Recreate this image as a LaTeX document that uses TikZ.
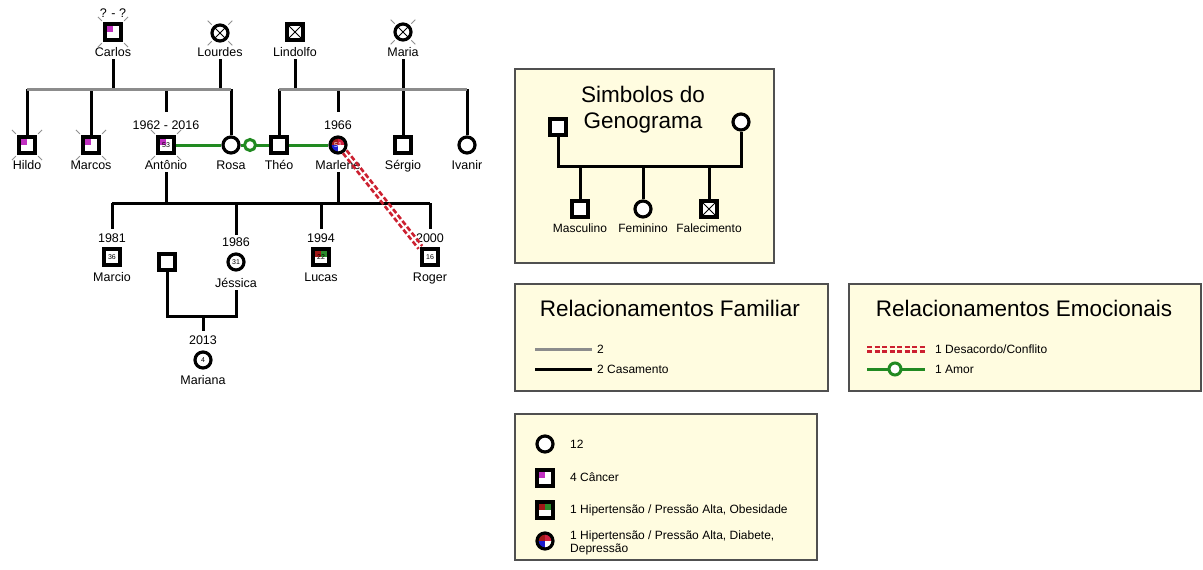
\documentclass[tikz,border=0pt]{standalone}
\usepackage{fontspec}
\setmainfont{Liberation Sans}
\definecolor{cream}{HTML}{FFFCE0}
\definecolor{relgray}{HTML}{8C8C8C}
\definecolor{lovegreen}{HTML}{218A21}
\definecolor{conflictred}{HTML}{CC2030}
\definecolor{cancer}{HTML}{C030C0}
\definecolor{hyper}{HTML}{A01818}
\definecolor{obes}{HTML}{2A8A2A}
\definecolor{diab}{HTML}{1C1CD0}
\definecolor{depr}{HTML}{D02040}
\definecolor{boxborder}{HTML}{505050}
\definecolor{tickgray}{HTML}{909090}
\tikzset{
  person/.style={draw=black, line width=3.2pt, fill=white, inner sep=0pt, minimum size=16pt, font=\fontsize{7}{8}\selectfont},
  male/.style={person, rectangle},
  female/.style={person, circle},
  deceased/.style={path picture={\draw[line width=0.8pt] (path picture bounding box.north west) -- (path picture bounding box.south east) (path picture bounding box.north east) -- (path picture bounding box.south west);}},
  cancermark/.style={path picture={\fill[cancer] (path picture bounding box.north west) rectangle (path picture bounding box.center);}},
  hypobes/.style={path picture={\fill[hyper] (path picture bounding box.north west) rectangle (path picture bounding box.center);
     \fill[obes] (path picture bounding box.north east) rectangle (path picture bounding box.center);}},
  hypdiabdep/.style={path picture={\fill[hyper] (path picture bounding box.north west) rectangle (path picture bounding box.center);
     \fill[depr] (path picture bounding box.north east) rectangle (path picture bounding box.center);
     \fill[diab] (path picture bounding box.south west) rectangle (path picture bounding box.center);}},
  lbl/.style={font=\fontsize{12.5}{14}\selectfont, inner sep=0pt, anchor=base},
  legtext/.style={font=\fontsize{12}{14}\selectfont, inner sep=0pt, anchor=base west},
  title/.style={font=\fontsize{22.5}{26}\selectfont, inner sep=0pt, anchor=base},
  famline/.style={draw=black, line width=3pt},
  grayline/.style={draw=relgray, line width=3pt},
  love/.style={draw=lovegreen, line width=3pt},
  lovecirc/.style={circle, draw=lovegreen, line width=3pt, fill=white, minimum size=11pt, inner sep=0pt},
  conflict/.style={draw=conflictred, line width=2.6pt, dash pattern=on 5pt off 2.5pt},
  tickmark/.style={draw=tickgray, line width=0.8pt},
  legendbox/.style={draw=boxborder, line width=1.5pt, fill=cream, inner sep=0pt, anchor=north west},
}
\begin{document}
\begin{tikzpicture}[x=1pt,y=-1pt]
\useasboundingbox (0,0) rectangle (1203,570);
\fill[white] (0,0) rectangle (1203,570);

% ---------------- Generation 1 ----------------
\node[male, cancermark] (carlos) at (113,32) {};
\node[lbl] (carlosyr) at (113,17) {? - ?};
\node[lbl] (carlosname) at (113,56) {Carlos};
\node[female, deceased] (lourdes) at (220,33) {};
\node[lbl] (lourdesname) at (220,56) {Lourdes};
\node[male, deceased] (lindolfo) at (295,32) {};
\node[lbl] (lindolfoname) at (295,56) {Lindolfo};
\node[female, deceased] (maria) at (403,32) {};
\node[lbl] (marianame) at (403,56) {Maria};

% ---------------- Generation 2 ----------------
\node[male, cancermark] (hildo) at (27,145) {};
\node[lbl] (hildoname) at (27,169) {Hildo};
\node[male, cancermark] (marcos) at (91,145) {};
\node[lbl] (marcosname) at (91,169) {Marcos};
\node[male, cancermark] (antonio) at (166,145) {53};
\node[lbl] (antonioyr) at (166,129) {1962 - 2016};
\node[lbl] (antonioname) at (166,169) {Antônio};
\node[female] (rosa) at (231,145) {};
\node[lbl] (rosaname) at (231,169) {Rosa};
\node[male] (theo) at (279,145) {};
\node[lbl] (theoname) at (279,169) {Théo};
\node[female, hypdiabdep, text=white] (marlene) at (338,145) {51};
\node[lbl] (marleneyr) at (338,129) {1966};
\node[lbl] (marlenename) at (338,169) {Marlene};
\node[male] (sergio) at (403,145) {};
\node[lbl] (sergioname) at (403,169) {Sérgio};
\node[female] (ivanir) at (467,145) {};
\node[lbl] (ivanirname) at (467,169) {Ivanir};

% corner ticks
\foreach \n in {carlos,lourdes,maria,hildo,marcos,antonio}{
  \draw[tickmark] (\n.north west) ++(-1.5,-1.5) -- ++(-4,-4);
  \draw[tickmark] (\n.north east) ++(1.5,-1.5) -- ++(4,-4);
  \draw[tickmark] (\n.south west) ++(-1.5,1.5) -- ++(-4,4);
  \draw[tickmark] (\n.south east) ++(1.5,1.5) -- ++(4,4);
}

% sibship bars
\coordinate (clbarL) at (27,89);
\coordinate (clbarR) at (231,89);
\coordinate (lmbarL) at (279,89);
\coordinate (lmbarR) at (467,89);

\draw[famline] ([yshift=-3pt]carlosname.south) -- (carlosname.south |- clbarL);
\draw[famline] ([yshift=-3pt]lourdesname.south) -- (lourdesname.south |- clbarL);
\draw[famline] (hildo.north |- clbarL) -- (hildo.north);
\draw[famline] (marcos.north |- clbarL) -- (marcos.north);
\draw[famline] (antonioyr.north |- clbarL) -- ([yshift=8pt]antonioyr.north);
\draw[famline] (rosa.north |- clbarL) -- (rosa.north);
\draw[grayline] (clbarL) -- (clbarR);

\draw[famline] ([yshift=-3pt]lindolfoname.south) -- (lindolfoname.south |- lmbarL);
\draw[famline] ([yshift=-3pt]marianame.south) -- (marianame.south |- lmbarL);
\draw[famline] (theo.north |- lmbarL) -- (theo.north);
\draw[famline] (marleneyr.north |- lmbarL) -- ([yshift=8pt]marleneyr.north);
\draw[famline] (sergio.north |- lmbarL) -- (sergio.north);
\draw[famline] (ivanir.north |- lmbarL) -- (ivanir.north);
\draw[grayline] (lmbarL) -- (lmbarR);

% love lines
\draw[love] (antonio.east) -- (rosa.west);
\draw[love] (rosa.east) -- (theo.west);
\node[lovecirc] (lovemark) at (250,145) {};
\draw[love] (theo.east) -- (marlene.west);

% ---------------- Generation 3 ----------------
\node[male] (marcio) at (112,257) {36};
\node[lbl] (marcioyr) at (112,242) {1981};
\node[lbl] (marcioname) at (112,281) {Marcio};
\node[female] (jessica) at (236,262) {31};
\node[lbl] (jessicayr) at (236,246) {1986};
\node[lbl] (jessicaname) at (236,287) {Jéssica};
\node[male, hypobes] (lucas) at (321,257) {\raisebox{-3pt}{22}};
\node[lbl] (lucasyr) at (321,242) {1994};
\node[lbl] (lucasname) at (321,281) {Lucas};
\node[male] (roger) at (430,257) {16};
\node[lbl] (rogeryr) at (430,242) {2000};
\node[lbl] (rogername) at (430,281) {Roger};
\node[male] (partner) at (167,262) {};

\coordinate (ambarL) at (112,203);
\coordinate (ambarR) at (430,203);
\draw[famline] ([yshift=-3pt]antonioname.south) -- (antonioname.south |- ambarL);
\draw[famline] ([yshift=-3pt]marlenename.south) -- (marlenename.south |- ambarL);
\draw[famline] (ambarL) -- (ambarR);
\draw[famline] (marcioyr.north |- ambarL) -- ([yshift=4pt]marcioyr.north);
\draw[famline] (jessicayr.north |- ambarL) -- ([yshift=2pt]jessicayr.north);
\draw[famline] (lucasyr.north |- ambarL) -- ([yshift=4pt]lucasyr.north);
\draw[famline] (rogeryr.north |- ambarL) -- ([yshift=4pt]rogeryr.north);

% Jessica's family
\coordinate (jbarL) at (167,316);
\coordinate (jbarR) at (236,316);
\coordinate (jchild) at (203,316);
\draw[famline] (partner.south) -- (partner.south |- jbarL) -- (jbarR) -- ([yshift=-3pt]jessicaname.south);
\node[female] (mariana) at (203,360) {4};
\node[lbl] (marianayr) at (203,344) {2013};
\node[lbl] (mariananame) at (203,384) {Mariana};
\draw[famline] (jchild) -- ([yshift=4pt]marianayr.north);

% conflict
\draw[conflict, transform canvas={xshift=1.8pt,yshift=1.45pt}] (marlene.south east) -- (roger.north west);
\draw[conflict, transform canvas={xshift=-1.8pt,yshift=-1.45pt}] (marlene.south east) -- (roger.north west);

% ---------------- Legend 1 ----------------
\node[legendbox, minimum width=259pt, minimum height=194pt] (box1) at (514,68) {};
\node[title] (t1a) at (643,102) {Simbolos do};
\node[title] (t1b) at (643,128) {Genograma};
\node[male] (lgm) at (558,127) {};
\node[female] (lgf) at (741,122) {};
\coordinate (lgbarL) at (558,166);
\coordinate (lgbarR) at (741,166);
\draw[famline] (lgm.south) -- (lgbarL) -- (lgbarR) -- (lgf.south);
\node[male] (lgc1) at (580,209) {};
\node[female] (lgc2) at (643,209) {};
\node[male, deceased] (lgc3) at (709,209) {};
\draw[famline] (lgc1.north |- lgbarL) -- (lgc1.north);
\draw[famline] (lgc2.north |- lgbarL) -- (lgc2.north);
\draw[famline] (lgc3.north |- lgbarL) -- (lgc3.north);
\node[lbl, font=\fontsize{12}{14}\selectfont] (lgc1t) at (580,232) {Masculino};
\node[lbl, font=\fontsize{12}{14}\selectfont] (lgc2t) at (643,232) {Feminino};
\node[lbl, font=\fontsize{12}{14}\selectfont] (lgc3t) at (709,232) {Falecimento};

% ---------------- Legend 2 ----------------
\node[legendbox, minimum width=313pt, minimum height=107pt] (box2) at (514,283) {};
\node[title] (t2) at (670,316) {Relacionamentos Familiar};
\coordinate (g1a) at (535,349); \coordinate (g1b) at (592,349);
\draw[grayline] (g1a) -- (g1b);
\node[legtext] (g1t) at (597,353) {2};
\coordinate (g2a) at (535,369); \coordinate (g2b) at (592,369);
\draw[famline] (g2a) -- (g2b);
\node[legtext] (g2t) at (597,373) {2 Casamento};

% ---------------- Legend 3 ----------------
\node[legendbox, minimum width=352pt, minimum height=107pt] (box3) at (848,283) {};
\node[title] (t3) at (1024,316) {Relacionamentos Emocionais};
\coordinate (e1a) at (867,349); \coordinate (e1b) at (925,349);
\draw[conflict, transform canvas={yshift=2.2pt}] (e1a) -- (e1b);
\draw[conflict, transform canvas={yshift=-2.2pt}] (e1a) -- (e1b);
\node[legtext] (e1t) at (935,353) {1 Desacordo/Conflito};
\coordinate (e2a) at (867,369); \coordinate (e2b) at (925,369);
\draw[love] (e2a) -- (e2b);
\node[lovecirc, minimum size=12pt] (e2c) at (895,369) {};
\node[legtext] (e2t) at (935,373) {1 Amor};

% ---------------- Legend 4 ----------------
\node[legendbox, minimum width=302pt, minimum height=146pt] (box4) at (514,413) {};
\node[female] (l4a) at (545,444) {};
\node[legtext] (l4at) at (570,448) {12};
\node[male, cancermark] (l4b) at (545,478) {};
\node[legtext] (l4bt) at (570,481) {4 Câncer};
\node[male, hypobes] (l4c) at (545,510) {};
\node[legtext] (l4ct) at (570,513) {1 Hipertensão / Pressão Alta, Obesidade};
\node[female, hypdiabdep] (l4d) at (545,541) {};
\node[legtext] (l4dt) at (570,539) {1 Hipertensão / Pressão Alta, Diabete,};
\node[legtext] (l4dt2) at (570,552) {Depressão};
\end{tikzpicture}
\end{document}
